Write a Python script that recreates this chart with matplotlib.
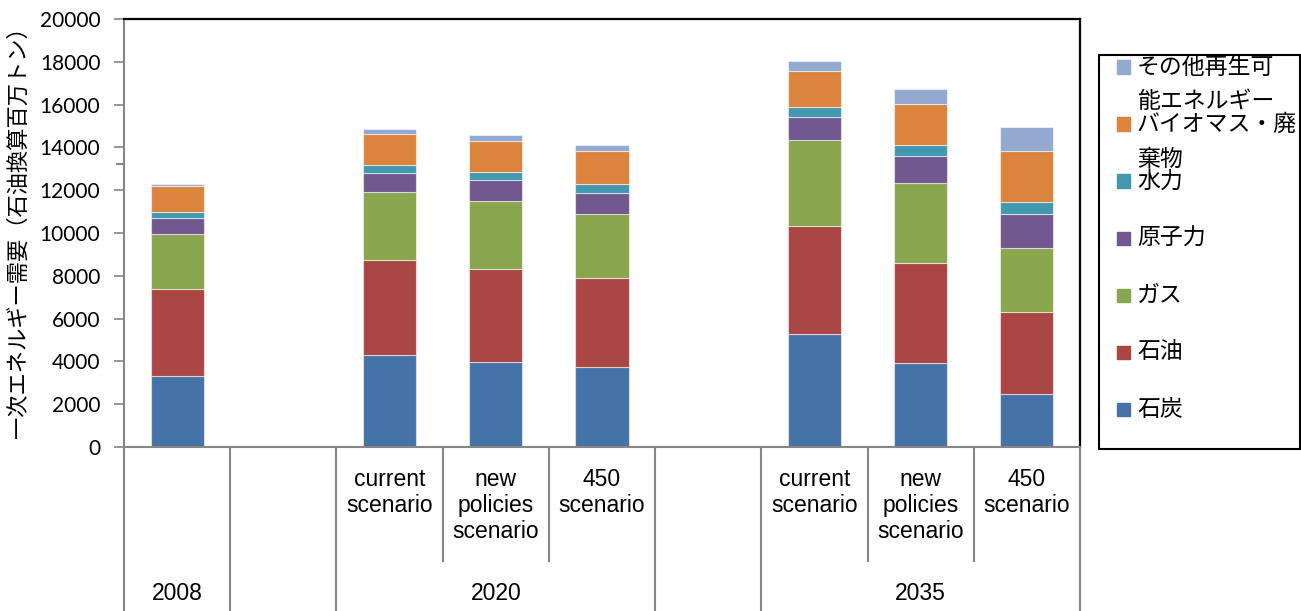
import numpy as np
import matplotlib
matplotlib.use("Agg")
import matplotlib.pyplot as plt
from matplotlib.patches import Rectangle
from matplotlib.lines import Line2D
import matplotlib.transforms as mtransforms

nan = np.nan

# Slots along the category axis (blank slots separate the year groups)
scenarios = ["", "", "current\nscenario", "new\npolicies\nscenario", "450\nscenario",
             "", "current\nscenario", "new\npolicies\nscenario", "450\nscenario"]
years = ["2008", "", "2020", "", "2035"]
year_spans = [(0, 1), (1, 2), (2, 5), (5, 6), (6, 9)]

# Primary energy demand by source (Mtoe), stacked bottom to top
coal    = [3315, nan, 4307, 3966, 3743, nan, 5281, 3934, 2500]
oil     = [4059, nan, 4443, 4346, 4175, nan, 5026, 4662, 3820]
gas     = [2596, nan, 3153, 3186, 2960, nan, 4039, 3748, 2990]
nuclear = [712,  nan, 915,  968,  1003, nan, 1081, 1273, 1600]
hydro   = [276,  nan, 364,  386,  402,  nan, 439,  476,  530]
biomass = [1225, nan, 1461, 1453, 1535, nan, 1715, 1957, 2400]
other   = [89,   nan, 239,  281,  308,  nan, 468,  699,  1100]

series = [coal, oil, gas, nuclear, hydro, biomass, other]
labels = ["石炭", "石油", "ガス", "原子力", "水力", "バイオマス・廃\n棄物", "その他再生可\n能エネルギー"]
colors = ["#4572A7", "#AA4643", "#89A54E", "#71588F", "#4198AF", "#DB843D", "#93A9CF"]

yticks = list(range(0, 20001, 2000))
ylabel = "一次エネルギー需要（石油換算百万トン）"

W, H = 1301, 611
fig = plt.figure(figsize=(W / 100, H / 100), dpi=100)
L, R, T, B = 124, 1080, 19, 447
ax = fig.add_axes([L / W, 1 - B / H, (R - L) / W, (B - T) / H])

x = np.arange(len(scenarios))
bottom = np.zeros(len(x))
for vals, col in zip(series, colors):
    v = np.array(vals, dtype=float)
    ax.bar(x, v, width=0.5, bottom=bottom, color=col,
           edgecolor=(1, 1, 1, 0.55), linewidth=0.8, zorder=2)
    bottom = bottom + v

ax.set_xlim(-0.5, len(x) - 0.5)
ax.set_ylim(0, 20000)
ax.set_yticks(yticks)
ax.set_yticklabels([str(t) for t in yticks], fontsize=15, fontfamily="Lato")
ax.tick_params(axis="y", length=7, width=1.2, color="#868686", pad=10)
ax.set_xticks([])

for s in ("left", "bottom"):
    ax.spines[s].set_color("#868686")
    ax.spines[s].set_linewidth(1.5)
for s in ("top", "right"):
    ax.spines[s].set_color("black")
    ax.spines[s].set_linewidth(1.6)

# Multi-level category axis
trans = mtransforms.blended_transform_factory(ax.transData, ax.transAxes)
def yfrac(py):
    return (B - py) / (B - T)

y_full = yfrac(H + 2)
y_short = yfrac(561)
full_bounds = set()
for a, b in year_spans:
    full_bounds.add(a)
    full_bounds.add(b)
for k in range(len(x) + 1):
    xb = k - 0.5
    y_end = y_full if k in full_bounds else y_short
    ax.add_line(Line2D([xb, xb], [0, y_end], transform=trans, color="#868686",
                       linewidth=1.5, clip_on=False, zorder=3))

# bottom spine extends left to form the zero tick
ax.add_line(Line2D([L - 7, L], [B, B], transform=None, color="#868686",
                   linewidth=1.5, clip_on=False))

for xi, lab in zip(x, scenarios):
    if lab:
        ax.text(xi, yfrac(468), lab, transform=trans, ha="center", va="top",
                fontsize=16.5, fontfamily="Liberation Sans", linespacing=1.18)

for (a, b), yr in zip(year_spans, years):
    if yr:
        ax.text((a + b - 1) / 2, yfrac(594), yr, transform=trans, ha="center",
                va="center", fontsize=16.5, fontfamily="Liberation Sans")

# Y-axis title
fig.text(18 / W, 1 - 227 / H, ylabel, rotation=90, ha="center", va="center",
         fontsize=16, fontfamily=["Noto Sans CJK JP", "DejaVu Sans"])

# Legend panel (top entry is the top of the stack)
fig.patches.append(Rectangle((1099 / W, 1 - 449 / H), 201 / W, 394 / H,
                             transform=fig.transFigure, fill=False,
                             edgecolor="black", linewidth=1.5))
first_y = 67
step = 57
for i, (lab, col) in enumerate(zip(labels[::-1], colors[::-1])):
    cy = first_y + i * step
    fig.patches.append(Rectangle((1117 / W, 1 - (cy + 6.5) / H), 13 / W, 13 / H,
                                 transform=fig.transFigure, color=col))
    for j, line in enumerate(lab.split("\n")):
        fig.text(1137 / W, 1 - (cy + j * 35) / H, line, ha="left", va="center",
                 fontsize=16.5, fontfamily=["Noto Sans CJK JP", "DejaVu Sans"])

fig.savefig("out.png", dpi=100)
